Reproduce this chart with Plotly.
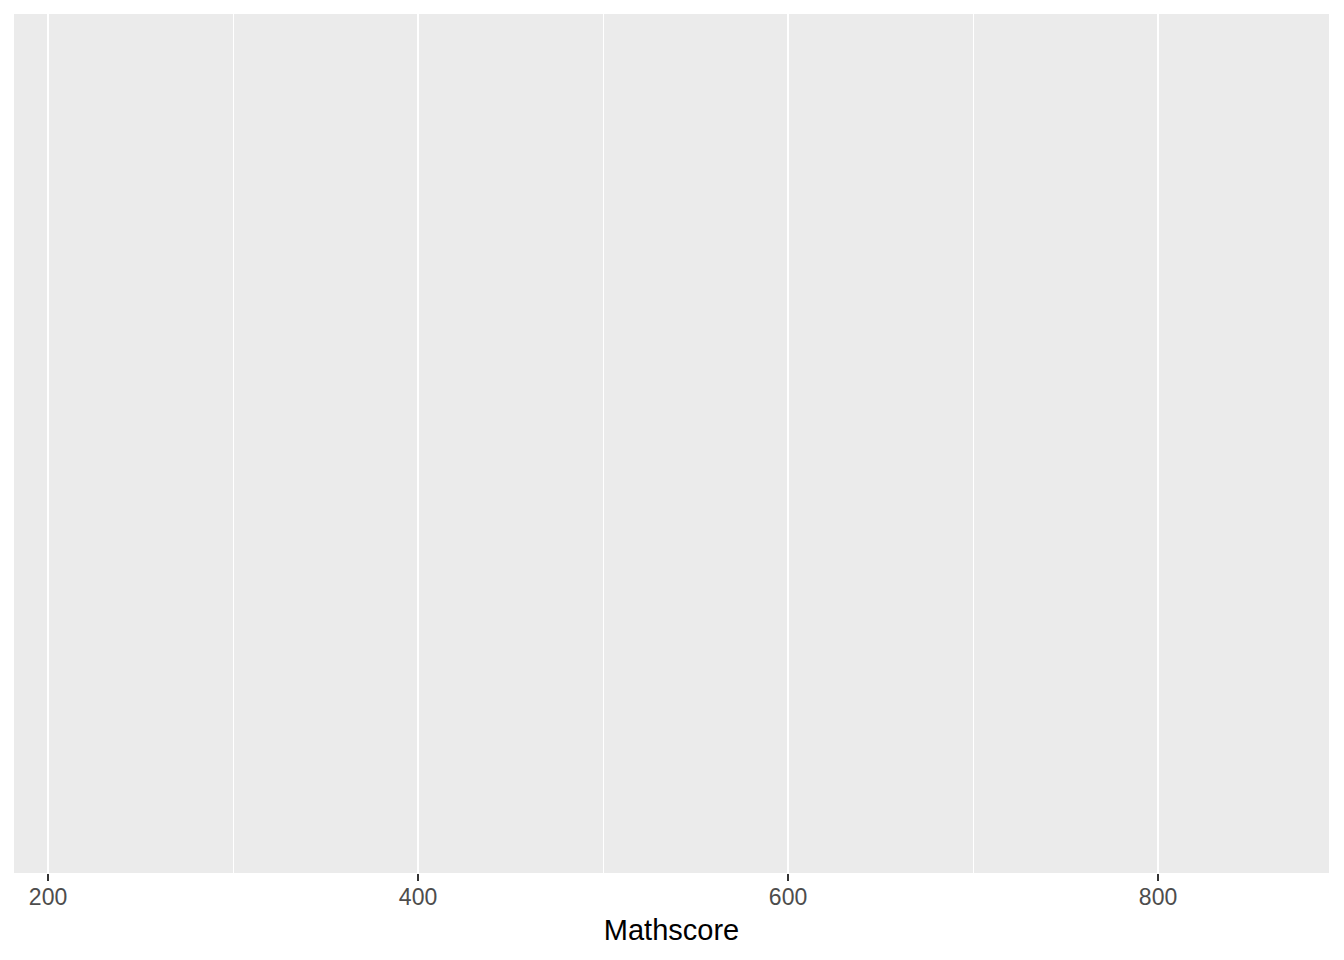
import plotly.graph_objects as go

# Empty panel: only the x scale is defined
x_title = "Mathscore"
x_limits = [181.6, 892.4]
major_ticks = [200, 400, 600, 800]
minor_ticks = [300, 500, 700]
math_scores = []

fig = go.Figure()
fig.add_trace(go.Scatter(x=math_scores, y=[], mode="markers", showlegend=False))

# page body adds an 8px offset, so the figure is sized to fit inside the window
fig.update_layout(
    width=1336,
    height=952,
    paper_bgcolor="white",
    plot_bgcolor="#EBEBEB",
    font=dict(family="Liberation Sans, Arial, sans-serif"),
    margin=dict(l=6, r=15, t=6, b=87),
    showlegend=False,
    xaxis=dict(
        range=x_limits,
        tickvals=major_ticks,
        ticktext=[str(v) for v in major_ticks],
        ticks="outside",
        ticklen=7,
        tickwidth=2,
        tickcolor="#333333",
        tickfont=dict(size=23, color="#4D4D4D"),
        ticklabelstandoff=-4,
        showgrid=True,
        gridcolor="white",
        gridwidth=2,
        zeroline=False,
        showline=False,
        minor=dict(tickvals=minor_ticks, showgrid=True, gridcolor="white", gridwidth=1, ticks=""),
        title=dict(text=x_title, font=dict(size=29, color="black"), standoff=11),
    ),
    yaxis=dict(
        range=[0, 1],
        showticklabels=False,
        showgrid=False,
        zeroline=False,
        ticks="",
    ),
)

fig.write_html("out.html")
